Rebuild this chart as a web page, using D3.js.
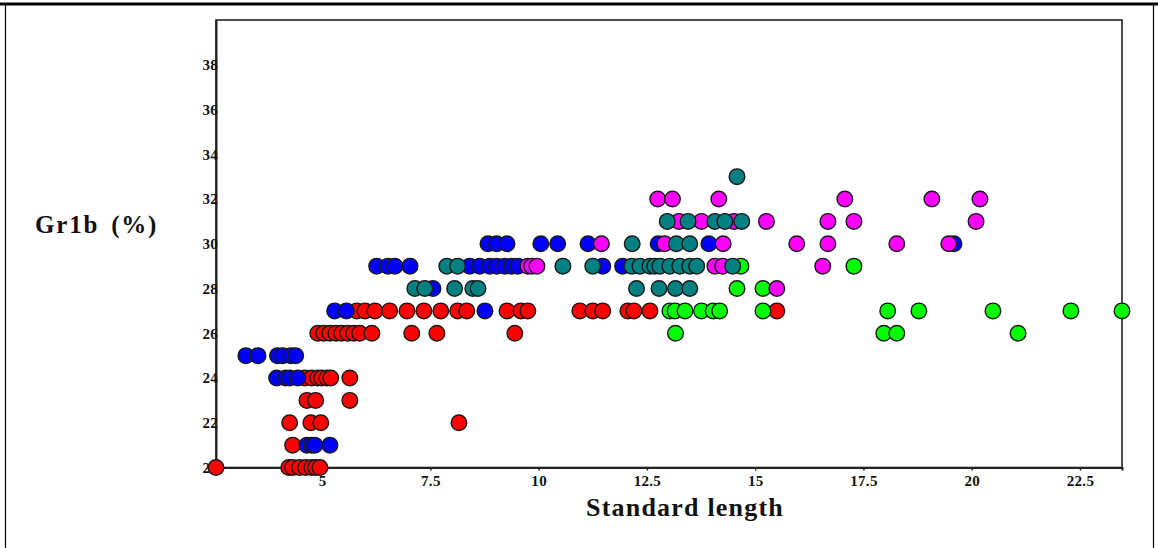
<!DOCTYPE html>
<html>
<head>
<meta charset="utf-8">
<script src="https://cdn.jsdelivr.net/npm/d3@7"></script>
<style>
  body { margin: 0; background: #fff; }
</style>
</head>
<body>
<div id="scatter"></div>
<script>
// data, one list per colour group: [standard length, Gr1b %]
var redPts = [
  [2.55, 20], [4.23, 20], [4.32, 20], [4.48, 20], [4.62, 20], [4.76, 20], [4.85, 20], [4.95, 20],
  [4.32, 21],
  [4.25, 22], [4.74, 22], [4.97, 22], [8.16, 22],
  [4.65, 23], [4.85, 23], [5.64, 23],
  [4.6, 24], [4.76, 24], [4.9, 24], [4.99, 24], [5.11, 24], [5.2, 24], [5.64, 24],
  [4.9, 26], [5.04, 26], [5.18, 26], [5.32, 26], [5.45, 26], [5.59, 26], [5.73, 26], [5.87, 26],
  [6.15, 26], [7.07, 26], [7.65, 26], [9.45, 26],
  [5.8, 27], [5.99, 27], [6.22, 27], [6.56, 27], [6.96, 27], [7.35, 27], [7.74, 27], [8.13, 27],
  [8.34, 27], [9.27, 27], [9.59, 27], [9.75, 27], [10.95, 27], [11.25, 27], [11.48, 27],
  [12.06, 27], [12.2, 27], [12.57, 27], [15.5, 27]
];
var bluePts = [
  [4.65, 21], [4.76, 21], [4.83, 21], [5.18, 21],
  [3.95, 24], [4.16, 24], [4.25, 24], [4.44, 24],
  [3.24, 25], [3.52, 25], [3.97, 25], [4.09, 25], [4.28, 25], [4.39, 25],
  [5.29, 27], [5.56, 27], [8.76, 27],
  [7.56, 28],
  [6.26, 29], [6.52, 29], [6.68, 29], [7.03, 29], [8.41, 29], [8.64, 29], [8.87, 29], [9.03, 29],
  [9.22, 29], [9.38, 29], [9.52, 29], [11.48, 29], [11.94, 29],
  [8.83, 30], [9.03, 30], [9.27, 30], [10.05, 30], [10.44, 30], [11.14, 30], [12.76, 30],
  [13.93, 30], [19.59, 30]
];
var greenPts = [
  [13.16, 26], [17.97, 26], [18.27, 26], [21.07, 26],
  [13.03, 27], [13.15, 27], [13.38, 27], [13.76, 27], [14.03, 27], [14.18, 27], [15.18, 27],
  [18.06, 27], [18.78, 27], [20.49, 27], [22.29, 27], [23.47, 27],
  [14.58, 28], [15.18, 28],
  [14.67, 29], [17.28, 29]
];
var magentaPts = [
  [15.5, 28],
  [9.75, 29], [9.84, 29], [9.96, 29], [14.07, 29], [14.25, 29], [16.56, 29],
  [11.45, 30], [12.91, 30], [14.26, 30], [15.96, 30], [16.68, 30], [18.27, 30], [19.47, 30],
  [13.24, 31], [13.76, 31], [14.51, 31], [15.26, 31], [16.68, 31], [17.28, 31], [20.1, 31],
  [12.75, 32], [13.09, 32], [14.16, 32], [17.07, 32], [19.08, 32], [20.19, 32]
];
var tealPts = [
  [7.14, 28], [7.37, 28], [8.06, 28], [8.48, 28], [8.6, 28], [12.26, 28], [12.78, 28], [13.16, 28], [13.49, 28],
  [7.88, 29], [8.13, 29], [10.56, 29], [11.25, 29], [12.15, 29], [12.34, 29], [12.57, 29], [12.68, 29],
  [12.8, 29], [13.03, 29], [13.26, 29], [13.49, 29], [13.65, 29], [14.48, 29],
  [12.16, 30], [13.18, 30], [13.49, 30],
  [12.97, 31], [13.45, 31], [14.07, 31], [14.3, 31], [14.69, 31],
  [14.58, 33]
];

var groups = [
  { pts: redPts, color: "#ff0000" },
  { pts: bluePts, color: "#0000ff" },
  { pts: greenPts, color: "#00ff00" },
  { pts: magentaPts, color: "#ff00ff" },
  { pts: tealPts, color: "#008080" }
];

var xTicks = [5, 7.5, 10, 12.5, 15, 17.5, 20, 22.5];
var yTicks = [20, 22, 24, 26, 28, 30, 32, 34, 36, 38];

var svgWidth = 1158;
var svgHeight = 548;

var margin = { top: 20, right: 36, bottom: 80, left: 216 };
var width = svgWidth - margin.left - margin.right;
var height = 467.5 - margin.top;

var svg = d3
  .select("#scatter")
  .append("svg")
  .attr("width", svgWidth)
  .attr("height", svgHeight);

// outer frame of the figure
svg.append("line").attr("x1", 0).attr("x2", svgWidth).attr("y1", 4).attr("y2", 4)
  .attr("stroke", "#000").attr("stroke-width", 3);
svg.append("line").attr("x1", 5.5).attr("x2", 5.5).attr("y1", 4).attr("y2", svgHeight)
  .attr("stroke", "#000").attr("stroke-width", 1.2);
svg.append("line").attr("x1", 1153.5).attr("x2", 1153.5).attr("y1", 4).attr("y2", svgHeight)
  .attr("stroke", "#000").attr("stroke-width", 1.2);

var chartGroup = svg
  .append("g")
  .attr("transform", `translate(${margin.left}, ${margin.top})`);

var xLinearScale = d3.scaleLinear().domain([2.55, 23.47]).range([0, width]);
var yLinearScale = d3.scaleLinear().domain([20, 40]).range([height, 0]);

// plot box
chartGroup.append("rect")
  .attr("x", 0).attr("y", 0)
  .attr("width", width).attr("height", height)
  .attr("fill", "none")
  .attr("stroke", "#222")
  .attr("stroke-width", 1.6);

var bottomAxis = d3.axisBottom(xLinearScale)
  .tickValues(xTicks).tickSize(3).tickPadding(5)
  .tickFormat((d) => String(d));
var leftAxis = d3.axisLeft(yLinearScale)
  .tickValues(yTicks).tickSize(0).tickPadding(-2);

var xAxis = chartGroup.append("g")
  .attr("transform", `translate(0, ${height})`)
  .call(bottomAxis);
xAxis.select(".domain").attr("stroke", "#222").attr("stroke-width", 2);
xAxis.selectAll(".tick line").attr("stroke", "#222").attr("stroke-width", 1.5);

var yAxis = chartGroup.append("g").call(leftAxis);
yAxis.select(".domain").attr("stroke", "#222").attr("stroke-width", 2);

// tick label look: small bold serif
xAxis.attr("font-size", 15).attr("font-family", "Liberation Serif, serif");
yAxis.attr("font-size", 15).attr("font-family", "Liberation Serif, serif");
chartGroup.selectAll(".tick text")
  .style("font-family", "'Liberation Serif', serif")
  .style("font-weight", "bold")
  .style("font-size", "15px")
  .style("letter-spacing", "0.3px")
  .attr("fill", "#111");

// points, one layer per colour
groups.forEach(function (g) {
  chartGroup.append("g")
    .selectAll("circle")
    .data(g.pts)
    .enter()
    .append("circle")
    .attr("cx", (d) => xLinearScale(d[0]))
    .attr("cy", (d) => yLinearScale(d[1]))
    .attr("r", 7.8)
    .attr("fill", g.color)
    .attr("stroke", "#1a1a1a")
    .attr("stroke-width", 1.4);
});

// axis titles
svg.append("text")
  .attr("x", 35)
  .attr("y", 233)
  .attr("font-family", "Liberation Serif, serif")
  .attr("font-weight", "bold")
  .attr("font-size", "25px")
  .attr("letter-spacing", "1.8px")
  .attr("word-spacing", "4px")
  .attr("fill", "#111")
  .text("Gr1b (%)");

svg.append("text")
  .attr("x", 685)
  .attr("y", 516)
  .attr("text-anchor", "middle")
  .attr("font-family", "Liberation Serif, serif")
  .attr("font-weight", "bold")
  .attr("font-size", "26px")
  .attr("letter-spacing", "1.2px")
  .attr("fill", "#111")
  .text("Standard length");
</script>
</body>
</html>
